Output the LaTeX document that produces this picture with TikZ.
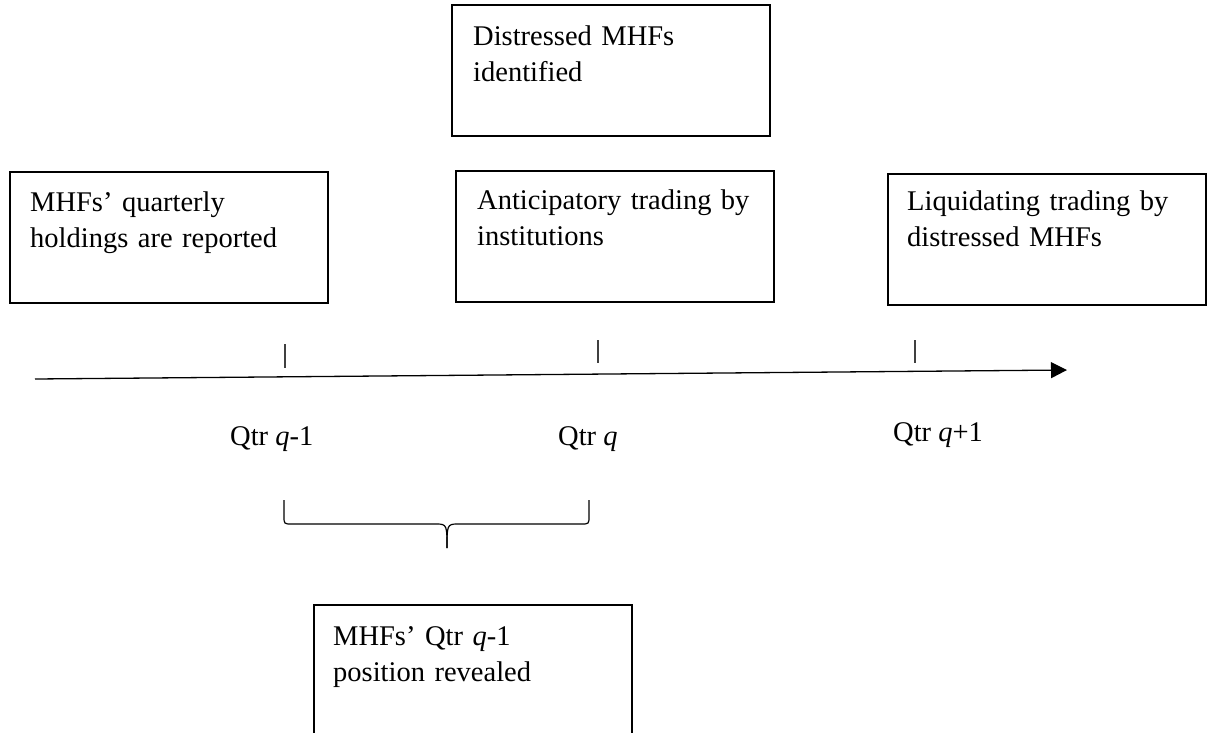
\documentclass[tikz,border=0pt]{standalone}
\usepackage{fontspec}
\setmainfont{Liberation Serif}
\usetikzlibrary{arrows.meta}
\tikzset{
  box/.style={draw=black, line width=1.5pt, anchor=north west, minimum width=318pt, minimum height=131pt, inner sep=0pt},
  boxtext/.style={anchor=base west, inner sep=0pt, text width=300pt, align=left, font=\fontsize{28.5}{36}\selectfont},
  lbl/.style={anchor=base west, inner sep=0pt, font=\fontsize{28.5}{34}\selectfont},
  tick/.style={line width=1.2pt, draw=black!75},
  axis/.style={line width=1.3pt, -{Triangle[length=16pt,width=16pt]}},
  brace/.style={line width=1.2pt}
}
\begin{document}
\begin{tikzpicture}[x=1pt,y=-1pt]
\path[use as bounding box] (0,0) rectangle (1207,732);
% boxes
\node[box] (btop) at (451,4) {};
\node[boxtext] (ttop) at (473,45) {Distressed MHFs\\identified};
\node[box] (bleft) at (9,171) {};
\node[boxtext] (tleft) at (30,211) {MHFs’ quarterly\\holdings are reported};
\node[box] (bmid) at (455,170) {};
\node[boxtext] (tmid) at (477,209) {Anticipatory trading by\\institutions};
\node[box] (bright) at (887,173) {};
\node[boxtext] (tright) at (907,210) {Liquidating trading by\\distressed MHFs};
\node[box] (bbot) at (313,604) {};
\node[boxtext] (tbot) at (333,645) {MHFs’ Qtr \textit{q}-1\\position revealed};
% axis
\coordinate (a0) at (35,379);
\coordinate (a1) at (1067,370);
\draw[axis] (a0) -- (a1);
% ticks
\coordinate (t1a) at (285,344); \coordinate (t1b) at (285,368);
\coordinate (t2a) at (598,340); \coordinate (t2b) at (598,363);
\coordinate (t3a) at (915,340); \coordinate (t3b) at (915,363);
\draw[tick] (t1a) -- (t1b);
\draw[tick] (t2a) -- (t2b);
\draw[tick] (t3a) -- (t3b);
% labels
\node[lbl] (l1) at (230,445) {Qtr \textit{q}-1};
\node[lbl] (l2) at (558,445) {Qtr \textit{q}};
\node[lbl] (l3) at (893,441) {Qtr \textit{q}+1};
% brace
\coordinate (bL) at (284,500);
\coordinate (bR) at (589,500);
\coordinate (bT) at (447,548);
\draw[brace] (bL) -- (284,516) .. controls (284,524) and (284,524) .. (292,524) -- (437,524) .. controls (447,524) and (447,526) .. (bT);
\draw[brace] (bR) -- (589,516) .. controls (589,524) and (589,524) .. (581,524) -- (457,524) .. controls (447,524) and (447,526) .. (bT);
\end{tikzpicture}
\end{document}
